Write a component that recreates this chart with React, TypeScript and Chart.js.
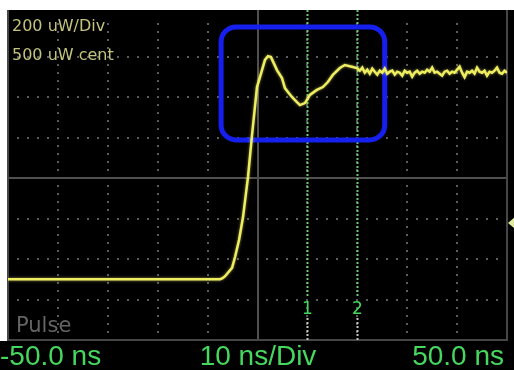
import React, { useEffect, useRef } from "react";
import { Chart, registerables } from "chart.js";

Chart.register(...registerables);

// Time axis of the capture (ns) and measured optical power (uW)
const TIME_NS = [
  -50, -30, -10, -7.5, -7.0, -6.5, -6.0, -5.1, -4.5, -3.7, -2.9, -1.9, -1.1, -0.1, 0.9, 1.5, 2.1, 2.7,
  3.9, 4.9, 5.5, 6.1, 6.9, 7.9, 8.5, 9.5, 9.9, 10.5, 11.9, 13.1, 14.1, 15.1, 16.5, 17.5, 19.1, 19.9,
  20.5, 21, 21.5, 22, 22.5, 23, 23.5, 24, 24.5, 25, 25.5, 26, 26.5, 27, 27.5, 28, 28.5, 29, 29.5, 30,
  30.5, 31, 31.5, 32, 32.5, 33, 33.5, 34, 34.5, 35, 35.5, 36, 36.5, 37, 37.5, 38, 38.5, 39, 39.5, 40,
  40.5, 41, 41.5, 42, 42.5, 43, 43.5, 44, 44.5, 45, 45.5, 46, 46.5, 47, 47.5, 48, 48.5, 49, 49.5, 50,
];
const POWER_UW = [
  0, 0, 0, 0, 5, 15, 30, 56, 110, 194, 307, 505, 712, 949, 1033, 1083, 1102, 1097,
  1033, 994, 944, 925, 900, 875, 860, 870, 885, 910, 935, 949, 974, 1009, 1043, 1058, 1048, 1043,
  1030, 1045, 1020, 1035, 1015, 1040, 1025, 1010, 1030, 1020, 1040, 1015, 1025, 1030, 1010, 1025, 1020, 1005, 1030, 1020,
  1025, 1000, 1020, 1030, 1015, 1025, 1020, 1035, 1025, 1045, 1020, 1025, 1015, 1005, 1025, 1030, 1015, 1025, 1020, 1035,
  1050, 1020, 998, 1025, 1020, 1030, 1015, 1045, 1025, 1020, 1030, 1005, 1025, 1020, 1030, 1045, 1020, 1015, 1030, 1020,
];

// Screen range: 10 ns/div horizontally, 200 uW/div around 500 uW vertically
const X_RANGE_NS = [-50, 50];
const Y_RANGE_UW = [-300, 1300];
const X_DIVS = 10;
const Y_DIVS = 8;

// Time cursors
const CURSOR_NS = [10, 20];
const CURSOR_LABELS = ["1", "2"];

// Highlight box around the overshoot
const BOX_NS = [-7.3, 25.5];
const BOX_UW = [688, 1246];

// Level marker on the right edge
const LEVEL_MARKER_UW = 278;

const SCALE_LABELS = ["200 uW/Div", "500 uW cent"];
const TIME_LABELS = ["-50.0 ns", "10 ns/Div", "50.0 ns"];
const TRACE_NAME = "Pulse";

const GRID = "rgb(92,92,92)";
const GREEN = "rgb(70,215,95)";

const scopePlugin = {
  id: "scopeScreen",
  beforeDraw(chart: any) {
    const { ctx, chartArea } = chart;
    const { left, right, top, bottom } = chartArea;
    const W = chart.width;
    const H = chart.height;
    ctx.save();
    ctx.fillStyle = "#ffffff";
    ctx.fillRect(0, 0, W, H);
    ctx.fillStyle = "#000000";
    ctx.fillRect(7, 10, W - 7, H - 10);
    ctx.fillRect(0, bottom + 1, W, H - bottom - 1);

    const w = right - left;
    const h = bottom - top;
    // dotted graticule
    ctx.fillStyle = GRID;
    for (let k = 1; k < X_DIVS; k++) {
      if (k === X_DIVS / 2) continue;
      const x = left + (k * w) / X_DIVS;
      for (let j = 1; j < Y_DIVS * 5; j++) {
        const y = top + (j * h) / (Y_DIVS * 5);
        ctx.fillRect(Math.round(x) - 1, Math.round(y) - 1, 2, 2);
      }
    }
    for (let k = 1; k < Y_DIVS; k++) {
      if (k === Y_DIVS / 2) continue;
      const y = top + (k * h) / Y_DIVS;
      for (let i = 1; i < X_DIVS * 5; i++) {
        const x = left + (i * w) / (X_DIVS * 5);
        ctx.fillRect(Math.round(x) - 1, Math.round(y) - 1, 2, 2);
      }
    }
    // centre cross and frame
    ctx.strokeStyle = "rgb(80,80,80)";
    ctx.lineWidth = 2;
    ctx.beginPath();
    const cx = Math.round(left + w / 2);
    const cy = Math.round(top + h / 2);
    ctx.moveTo(cx, 10);
    ctx.lineTo(cx, bottom);
    ctx.moveTo(left, cy);
    ctx.lineTo(right, cy);
    ctx.stroke();
    ctx.strokeStyle = "rgb(70,70,70)";
    ctx.beginPath();
    ctx.moveTo(left, 10);
    ctx.lineTo(left, bottom);
    ctx.lineTo(right, bottom);
    ctx.lineTo(right, 10);
    ctx.stroke();

    // cursors
    const xs = chart.scales.x;
    CURSOR_NS.forEach((ns, i) => {
      const x = Math.round(xs.getPixelForValue(ns)) + 0.5;
      ctx.lineWidth = 2;
      ctx.setLineDash([2, 2]);
      ctx.strokeStyle = "rgb(110,200,110)";
      ctx.beginPath();
      ctx.moveTo(x, 10);
      ctx.lineTo(x, bottom - 42);
      ctx.stroke();
      ctx.strokeStyle = "rgb(200,200,190)";
      ctx.beginPath();
      ctx.moveTo(x, bottom - 22);
      ctx.lineTo(x, bottom);
      ctx.stroke();
      ctx.setLineDash([]);
      ctx.fillStyle = GREEN;
      ctx.font = "17px 'DejaVu Sans'";
      ctx.textAlign = "center";
      ctx.textBaseline = "alphabetic";
      ctx.fillText(CURSOR_LABELS[i], x, bottom - 26);
    });
    ctx.restore();
  },
  beforeDatasetsDraw(chart: any) {
    const { ctx } = chart;
    const xs = chart.scales.x;
    const ys = chart.scales.y;
    const x0 = xs.getPixelForValue(BOX_NS[0]);
    const x1 = xs.getPixelForValue(BOX_NS[1]);
    const y0 = ys.getPixelForValue(BOX_UW[1]);
    const y1 = ys.getPixelForValue(BOX_UW[0]);
    ctx.save();
    ctx.strokeStyle = "rgb(22,32,238)";
    ctx.lineWidth = 5;
    ctx.beginPath();
    ctx.roundRect(x0, y0, x1 - x0, y1 - y0, 15);
    ctx.stroke();
    ctx.restore();
    ctx.save();
    ctx.shadowColor = "rgba(255,255,140,0.55)";
    ctx.shadowBlur = 3;
  },
  afterDatasetsDraw(chart: any) {
    const { ctx, chartArea } = chart;
    ctx.restore();
    ctx.save();
    ctx.textAlign = "left";
    ctx.textBaseline = "alphabetic";
    ctx.fillStyle = "rgb(195,195,125)";
    ctx.font = "16px 'DejaVu Sans'";
    ctx.fillText(SCALE_LABELS[0], 12, 31);
    ctx.fillText(SCALE_LABELS[1], 12, 60);

    ctx.fillStyle = "rgb(100,100,100)";
    ctx.font = "21px 'DejaVu Sans'";
    ctx.fillText(TRACE_NAME, 16, 332);

    ctx.fillStyle = GREEN;
    ctx.font = "28px 'Liberation Sans'";
    ctx.fillText(TIME_LABELS[0], 0, 365);
    ctx.textAlign = "center";
    ctx.fillText(TIME_LABELS[1], 258, 365);
    ctx.textAlign = "right";
    ctx.fillText(TIME_LABELS[2], 504, 365);

    // level marker
    const y = chart.scales.y.getPixelForValue(LEVEL_MARKER_UW);
    const r = chartArea.right;
    ctx.fillStyle = "rgb(225,235,160)";
    ctx.beginPath();
    ctx.moveTo(r + 1, y);
    ctx.lineTo(r + 8, y - 6);
    ctx.lineTo(r + 8, y + 6);
    ctx.closePath();
    ctx.fill();
    ctx.restore();
  },
};

export default function App() {
  const ref = useRef<HTMLCanvasElement>(null);
  useEffect(() => {
    if (!ref.current) return;
    const points = TIME_NS.map((t, i) => ({ x: t, y: POWER_UW[i] }));
    const chart = new Chart(ref.current, {
      type: "line",
      data: {
        datasets: [
          {
            label: TRACE_NAME,
            data: points,
            borderColor: "rgb(238,238,95)",
            borderWidth: 2.5,
            pointRadius: 0,
            tension: 0,
            fill: false,
          },
        ],
      },
      options: {
        animation: false,
        responsive: false,
        devicePixelRatio: 1,
        layout: { padding: { left: 8, right: 7, top: 16, bottom: 30 } },
        plugins: { legend: { display: false }, tooltip: { enabled: false } },
        scales: {
          x: { type: "linear", min: X_RANGE_NS[0], max: X_RANGE_NS[1], display: false },
          y: { type: "linear", min: Y_RANGE_UW[0], max: Y_RANGE_UW[1], display: false },
        },
      },
      plugins: [scopePlugin],
    });
    return () => chart.destroy();
  }, []);
  return (
    <div style={{ position: "absolute", left: 0, top: 0, width: 514, height: 370, background: "#fff" }}>
      <canvas ref={ref} width={514} height={370} style={{ width: 514, height: 370, display: "block" }} />
    </div>
  );
}
